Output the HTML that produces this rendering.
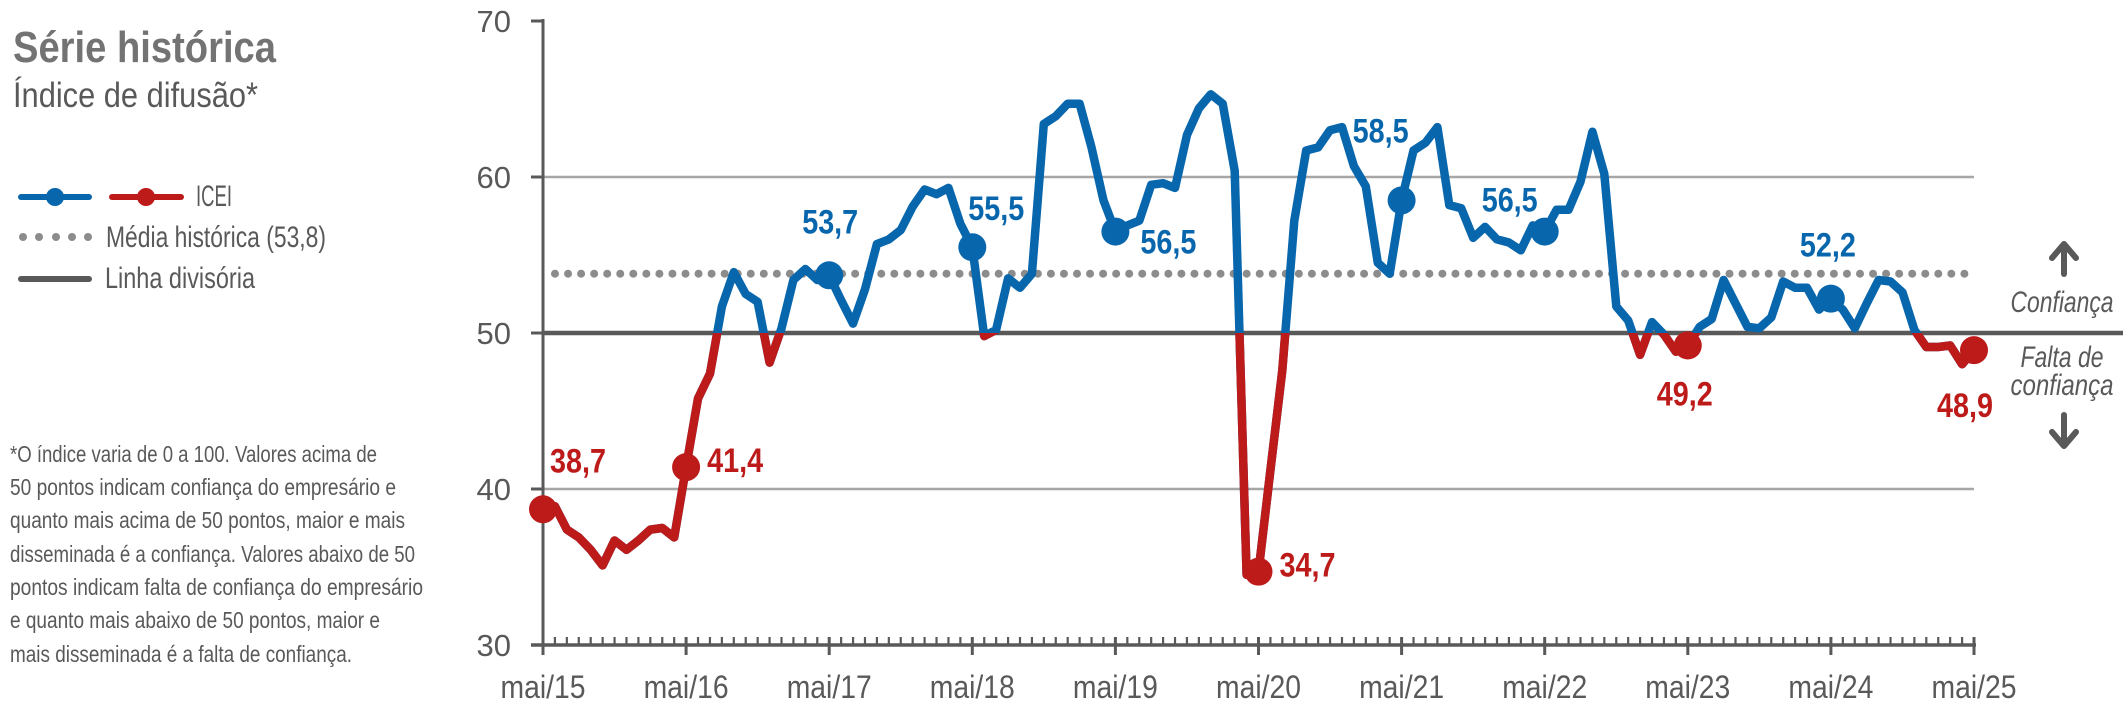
<!DOCTYPE html>
<html><head><meta charset="utf-8"><style>
html,body{margin:0;padding:0;background:#fff;}
svg{display:block;font-family:"Liberation Sans Narrow","Liberation Sans",sans-serif;}
</style></head><body>
<svg id="chart" width="2126" height="711" viewBox="0 0 2126 711" xmlns="http://www.w3.org/2000/svg">
<defs><clipPath id="below50"><rect x="0" y="333" width="2126" height="400"/></clipPath></defs>
<g>
<text x="13" y="62" font-size="44" font-weight="bold" fill="#737373" textLength="263" lengthAdjust="spacingAndGlyphs">Série histórica</text>
<text x="13" y="107" font-size="35" fill="#595959" textLength="245" lengthAdjust="spacingAndGlyphs">Índice de difusão*</text>
</g>
<g>
<g>
<line x1="21" y1="197" x2="89" y2="197" stroke="#0866ad" stroke-width="6" stroke-linecap="round"/>
<circle cx="55" cy="197" r="9" fill="#0866ad"/>
<line x1="112" y1="197" x2="181" y2="197" stroke="#bd1a1a" stroke-width="6" stroke-linecap="round"/>
<circle cx="146" cy="197" r="9" fill="#bd1a1a"/>
<text x="196" y="206" font-size="30" fill="#595959" textLength="36" lengthAdjust="spacingAndGlyphs">ICEI</text>
</g>
<g>
<circle cx="23" cy="237" r="4" fill="#8c8c8c"/><circle cx="39" cy="237" r="4" fill="#8c8c8c"/><circle cx="56" cy="237" r="4" fill="#8c8c8c"/><circle cx="72" cy="237" r="4" fill="#8c8c8c"/><circle cx="88" cy="237" r="4" fill="#8c8c8c"/>
<text x="106" y="247" font-size="30" fill="#595959" textLength="220" lengthAdjust="spacingAndGlyphs">Média histórica (53,8)</text>
</g>
<g>
<line x1="21" y1="279" x2="89" y2="279" stroke="#595959" stroke-width="6" stroke-linecap="round"/>
<text x="105" y="288" font-size="30" fill="#595959" textLength="150" lengthAdjust="spacingAndGlyphs">Linha divisória</text>
</g>
</g>
<g font-size="23" fill="#595959">
<text x="10" y="462" textLength="367" lengthAdjust="spacingAndGlyphs">*O índice varia de 0 a 100. Valores acima de</text>
<text x="10" y="495" textLength="386" lengthAdjust="spacingAndGlyphs">50 pontos indicam confiança do empresário e</text>
<text x="10" y="528" textLength="395" lengthAdjust="spacingAndGlyphs">quanto mais acima de 50 pontos, maior e mais</text>
<text x="10" y="562" textLength="405" lengthAdjust="spacingAndGlyphs">disseminada é a confiança. Valores abaixo de 50</text>
<text x="10" y="595" textLength="413" lengthAdjust="spacingAndGlyphs">pontos indicam falta de confiança do empresário</text>
<text x="10" y="628" textLength="370" lengthAdjust="spacingAndGlyphs">e quanto mais abaixo de 50 pontos, maior e</text>
<text x="10" y="662" textLength="342" lengthAdjust="spacingAndGlyphs">mais disseminada é a falta de confiança.</text>
</g>
<g fill="#595959">
<path d="M2064 244 L2076 258 M2064 244 L2052 258 M2064 245 L2064 274" stroke="#595959" stroke-width="6" stroke-linecap="round" fill="none"/>
<text x="2062" y="312" font-size="30" font-style="italic" text-anchor="middle" textLength="103" lengthAdjust="spacingAndGlyphs">Confiança</text>
<text x="2062" y="367" font-size="30" font-style="italic" text-anchor="middle" textLength="83" lengthAdjust="spacingAndGlyphs">Falta de</text>
<text x="2062" y="395" font-size="30" font-style="italic" text-anchor="middle" textLength="103" lengthAdjust="spacingAndGlyphs">confiança</text>
<path d="M2064 446 L2076 432 M2064 446 L2052 432 M2064 445 L2064 415" stroke="#595959" stroke-width="6" stroke-linecap="round" fill="none"/>
</g>
<g id="plot"></g>
</svg>
<script>
const months = ["mai/15","mai/16","mai/17","mai/18","mai/19","mai/20","mai/21","mai/22","mai/23","mai/24","mai/25"];
const yTicks = [30,40,50,60,70];
const icei = [38.7,38.9,37.4,36.9,36.1,35.1,36.7,36.1,36.7,37.4,37.5,36.9,
41.4,45.8,47.4,51.7,53.9,52.5,52.0,48.1,50.3,53.4,54.1,53.4,
53.7,52.1,50.6,52.8,55.7,56.0,56.6,58.1,59.2,58.9,59.3,57.0,
55.5,49.8,50.2,53.5,52.9,53.8,63.4,63.9,64.7,64.7,61.9,58.5,
56.5,56.9,57.2,59.5,59.6,59.3,62.7,64.4,65.3,64.7,60.4,34.5,
34.7,41.2,47.6,57.2,61.7,61.9,63.0,63.2,60.7,59.4,54.5,53.8,
58.5,61.7,62.2,63.2,58.2,58.0,56.1,56.8,56.0,55.8,55.3,56.9,
56.5,57.9,57.9,59.7,62.9,60.2,51.7,50.8,48.6,50.7,49.9,48.8,
49.2,50.4,50.9,53.4,51.9,50.4,50.3,51.0,53.3,52.9,52.9,51.5,
52.2,51.5,50.3,51.9,53.4,53.3,52.6,50.2,49.1,49.1,49.2,48.0,
48.9];
const mediaHistorica = 53.8;
const linhaDivisoria = 50;
const highlightIdx = [0,12,24,36,48,60,72,84,96,108,120];
const labelDx = [7,21,-27,-4,25,21,-49,-63,-31,-31,-37];
const labelDy = [-37,5,-42,-27,22,5,-58,-20,60,-42,67];

const X0=543, X1=1974, N=icei.length-1;
const x = i => X0 + i*(X1-X0)/N;
const y = v => 333 - (v-50)*15.6;
const NS="http://www.w3.org/2000/svg";
const plot=document.getElementById('plot');
function mk(tag, attrs, parent){const e=document.createElementNS(NS,tag);for(const k in attrs)e.setAttribute(k,attrs[k]);(parent||plot).appendChild(e);return e;}
const BLUE="#0866ad", RED="#bd1a1a", GRAY="#595959";

[40,60].forEach(v=>{
  const g=mk('line',{x1:X0,x2:X1,y1:y(v),y2:y(v),stroke:"#a6a6a6","stroke-width":2.5});
  
  
});
const mh=mk('line',{x1:X0+12,x2:1966,y1:y(mediaHistorica),y2:y(mediaHistorica),stroke:"#8c8c8c","stroke-width":8,"stroke-linecap":"round","stroke-dasharray":"0 13.05"});


const ld=mk('line',{x1:X0,x2:2123,y1:y(linhaDivisoria),y2:y(linhaDivisoria),stroke:GRAY,"stroke-width":4.5});


const ya=mk('line',{x1:X0,x2:X0,y1:y(70)-2,y2:y(30),stroke:GRAY,"stroke-width":3});


yTicks.forEach(v=>{
  const t=mk('line',{x1:531,x2:X0,y1:y(v),y2:y(v),stroke:GRAY,"stroke-width":3});
  
  
  const l=mk('text',{x:511,y:y(v)+11,"font-size":31,fill:GRAY,"text-anchor":"end"});
  l.textContent=v;
  
  
});
const xa=mk('line',{x1:X0-12,x2:X1+2,y1:y(30),y2:y(30),stroke:GRAY,"stroke-width":3.5});


for(let i=0;i<=N;i++){
  const major = i%12===0;
  const t=mk('line',{x1:x(i),x2:x(i),y1:y(30)-8,y2:major?y(30)+10:y(30),stroke:GRAY,"stroke-width":major?3:2.2});
  
  
}
months.forEach((m,k)=>{
  const l=mk('text',{x:x(k*12),y:698,"font-size":32,fill:GRAY,"text-anchor":"middle",textLength:85,lengthAdjust:"spacingAndGlyphs"});
  l.textContent=m;
  
  
});
const pts=icei.map((v,i)=>x(i).toFixed(1)+','+y(v).toFixed(1)).join(' ');
const lb=mk('polyline',{points:pts,fill:"none",stroke:BLUE,"stroke-width":8.5,"stroke-linejoin":"round","stroke-linecap":"round"});


const lr=mk('polyline',{points:pts,fill:"none",stroke:RED,"stroke-width":8.5,"stroke-linejoin":"round","stroke-linecap":"round","clip-path":"url(#below50)"});


highlightIdx.forEach((idx,k)=>{
  const v=icei[idx], c = v<50?RED:BLUE;
  const d=mk('circle',{cx:x(idx),cy:y(v),r:14,fill:c});
  
  
  const t=mk('text',{x:x(idx)+labelDx[k],y:y(v)+labelDy[k],"font-size":34,"font-weight":"bold",fill:c,textLength:56,lengthAdjust:"spacingAndGlyphs"});
  t.textContent=v.toFixed(1).replace('.',',');
  
  
});
</script>
</body></html>
